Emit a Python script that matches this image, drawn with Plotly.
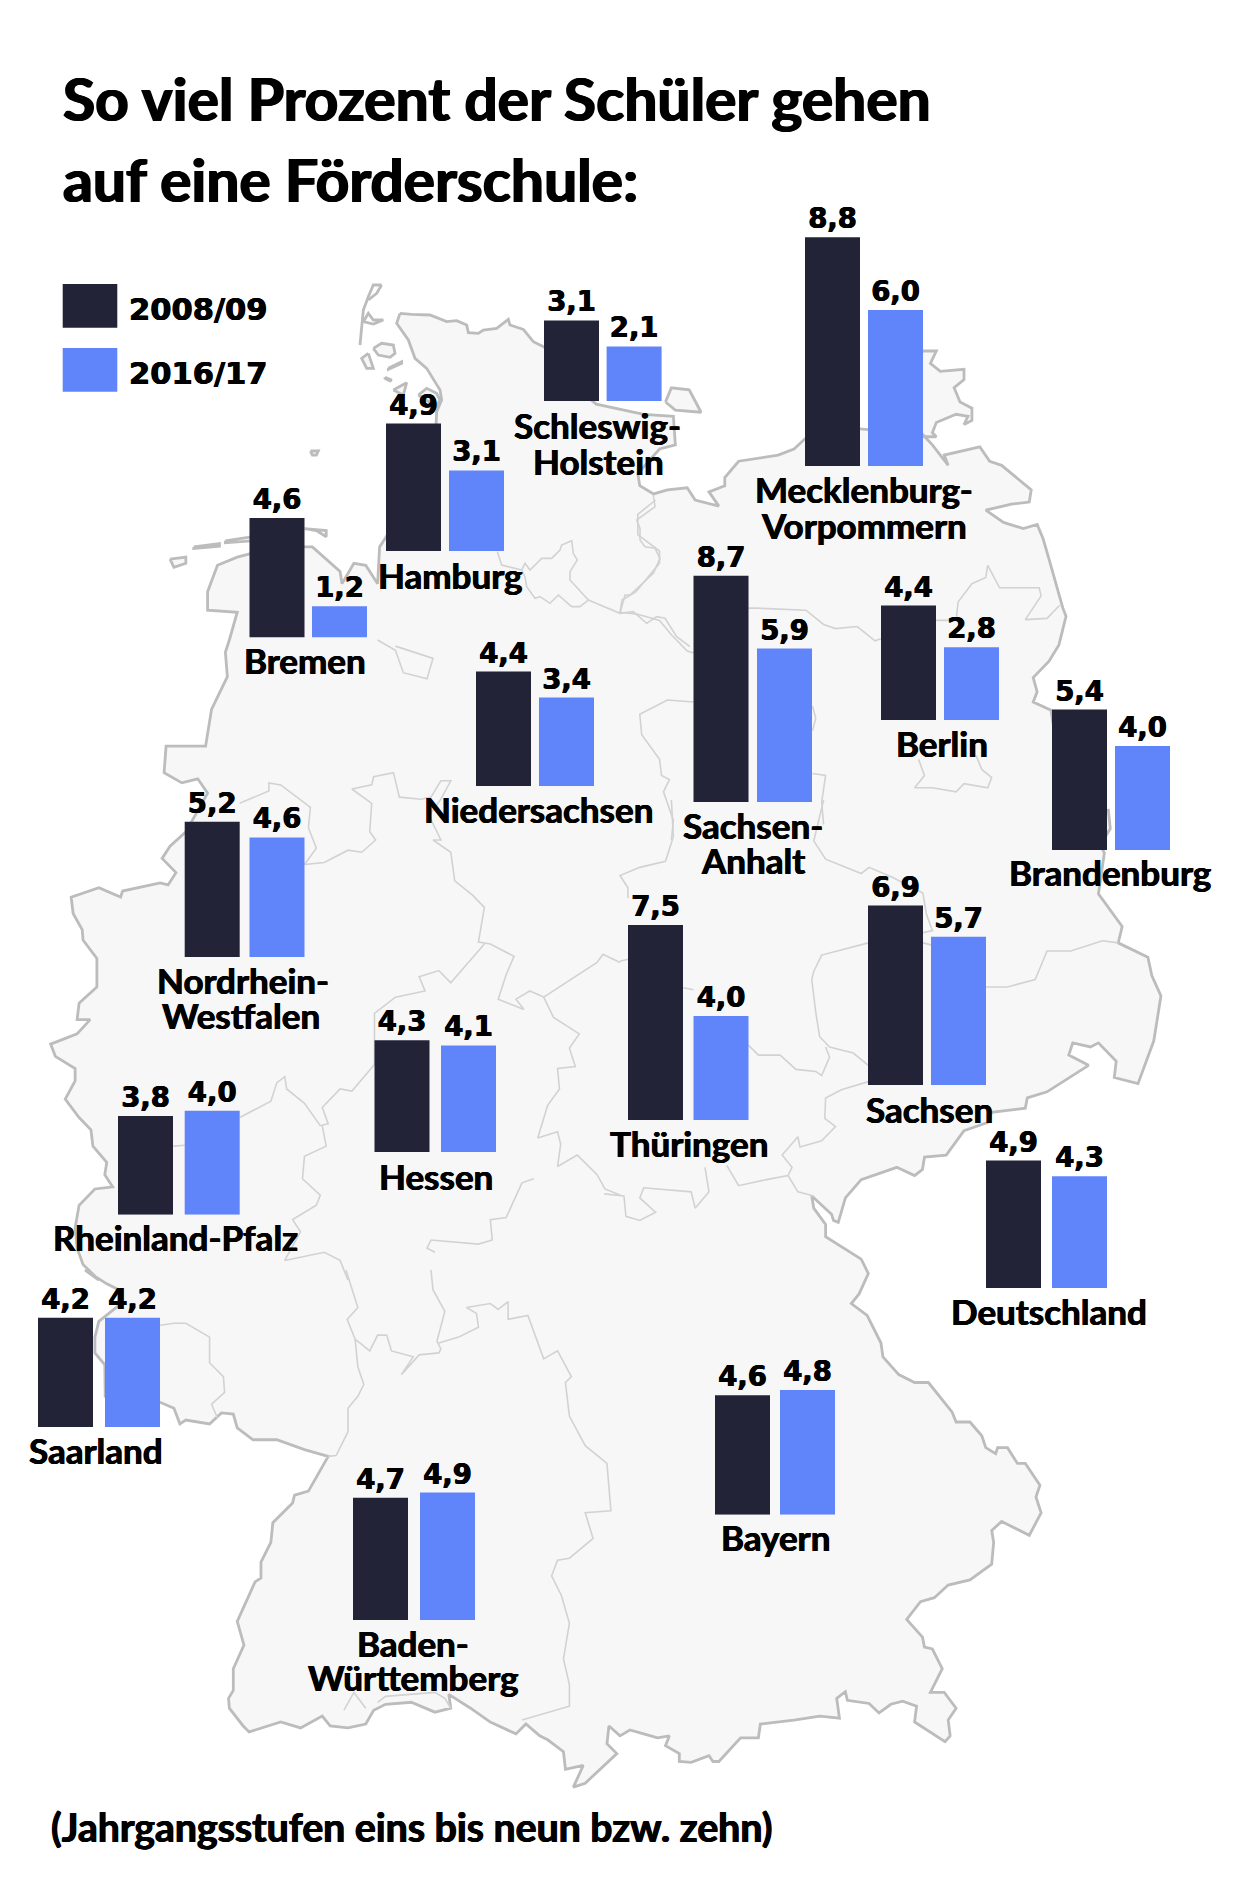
import plotly.graph_objects as go

W, H = 1240, 1889

# werte aus dem bild
STATES = ['Schleswig-Holstein', 'Hamburg', 'Bremen', 'Mecklenburg-Vorpommern', 'Berlin',
          'Niedersachsen', 'Sachsen-Anhalt', 'Brandenburg', 'Nordrhein-Westfalen', 'Hessen',
          'Rheinland-Pfalz', 'Thüringen', 'Sachsen', 'Deutschland', 'Saarland',
          'Baden-Württemberg', 'Bayern']
YEARS = ['2008/09', '2016/17']
VALUES_0809 = [3.1, 4.9, 4.6, 8.8, 4.4, 4.4, 8.7, 5.4, 5.2, 4.3, 3.8, 7.5, 6.9, 4.9, 4.2, 4.7, 4.6]
VALUES_1617 = [2.1, 3.1, 1.2, 6.0, 2.8, 3.4, 5.9, 4.0, 4.6, 4.1, 4.0, 4.0, 5.7, 4.3, 4.2, 4.9, 4.8]

# wo die kleinen diagramme auf der karte sitzen (pixel)
DARK_LEFT = [544, 386, 249.5, 805, 881, 476, 693.5, 1052, 184.7, 374.5, 118, 628, 868, 986, 38, 353, 715]
BLUE_LEFT = [606.6, 449, 312, 868, 944, 539, 757, 1115, 249.5, 441, 184.7, 693.5, 931, 1052, 105, 420, 780]
BAR_BOTTOM = [401, 551, 637.5, 466, 720, 786, 802, 850, 957, 1152, 1214.7, 1120, 1085, 1288, 1427, 1620, 1514.8]
BAR_WIDTH = 55
PX_PER_UNIT = 26.0
AXIS_MAX = 10

# (zeile, mitte x, grundlinie y)
LABELS = [('Schleswig-', 597, 438), ('Holstein', 598, 473.5), ('Hamburg', 450, 588), ('Bremen', 305, 672.7),
          ('Mecklenburg-', 863.5, 502), ('Vorpommern', 864, 538), ('Berlin', 941.6, 756),
          ('Niedersachsen', 538.5, 821.6), ('Sachsen-', 752.8, 838), ('Anhalt', 753, 872.6),
          ('Brandenburg', 1110, 885), ('Nordrhein-', 242.7, 993), ('Westfalen', 241, 1027.8),
          ('Hessen', 435.6, 1189), ('Rheinland-Pfalz', 175.5, 1250), ('Thüringen', 689, 1156),
          ('Sachsen', 929, 1121.6), ('Deutschland', 1049, 1323.7), ('Saarland', 96, 1463.4),
          ('Baden-', 413, 1655.7), ('Württemberg', 413, 1690.4), ('Bayern', 775.6, 1550.3)]

TITLE_LINES = ['So viel Prozent der Schüler gehen', 'auf eine Förderschule:']
NOTE = '(Jahrgangsstufen eins bis neun bzw. zehn)'

DARK = '#232338'
BLUE = '#6085fb'
SANS = 'Lato'
WIDE = 'DejaVu Sans'
LOW = 2.533


def panel(x0, y0, pts, sx=2.529, sy=2.45):
    return [(x0 + x / sx, y0 + y / sy) for x, y in pts]


def crop(x0, y0, pts):
    return panel(x0, y0, pts, sx=3, sy=3)


# umriss im uhrzeigersinn, stück für stück
OUTLINE = (
    crop(340, 280, [(180, 100), (215, 103), (270, 105), (320, 125), (350, 122), (380, 135), (385, 158), (415, 160),
                    (430, 150), (470, 145), (505, 118), (510, 135), (550, 148), (580, 185), (600, 195)])
    + panel(0, 0, [(1376, 850), (1420, 900), (1470, 960)])
    + panel(620, 200, [(-60, 500), (60, 525), (135, 530), (140, 600), (100, 610), (45, 670), (50, 700), (85, 720),
                       (120, 710), (170, 705), (190, 735), (250, 750), (225, 715), (265, 700), (265, 680),
                       (300, 640), (400, 625), (440, 610), (468, 585), (600, 560), (766, 575), (790, 600),
                       (810, 625), (830, 650), (820, 625), (890, 610), (910, 605), (935, 640), (965, 650),
                       (1040, 710), (1035, 740), (990, 745), (925, 760), (970, 790), (1020, 805), (1055, 795),
                       (1070, 830), (1085, 880), (1100, 930), (1120, 1000), (1128, 1020), (1110, 1090),
                       (1085, 1130), (1045, 1170), (1055, 1205), (1045, 1230), (1090, 1250)])
    + panel(620, 800, [(1130, 30), (1235, 25), (1240, 70), (1215, 110), (1225, 130), (1210, 230), (1240, 270),
                       (1270, 310), (1260, 350), (1335, 385), (1345, 430), (1368, 480), (1350, 590), (1310, 695),
                       (1250, 680), (1255, 640), (1210, 595), (1190, 605), (1145, 595), (1135, 625), (1185, 650),
                       (1080, 715), (1030, 730), (1025, 755), (940, 765), (930, 790), (870, 810), (825, 870),
                       (770, 875), (765, 905), (745, 920), (700, 900), (610, 930), (570, 975), (552, 1035),
                       (540, 1030), (535, 1015), (485, 970), (490, 1000), (520, 1040), (520, 1070), (610, 1125),
                       (628, 1160)])
    + panel(620, 1270, [(605, 60), (585, 85), (625, 115), (660, 185), (665, 220), (705, 265), (745, 285), (780, 285),
                        (840, 360), (850, 385), (885, 385), (915, 420), (925, 450), (950, 465), (955, 450),
                        (980, 450), (1005, 490), (1025, 490), (1062, 545), (1052, 575), (1065, 615), (1035, 672),
                        (965, 637), (940, 660), (945, 690), (940, 745), (885, 785), (830, 798), (795, 830),
                        (760, 840), (725, 885), (765, 930), (770, 955), (790, 960), (815, 1010), (785, 1070),
                        (820, 1070), (850, 1110), (830, 1140), (835, 1180), (822, 1195), (745, 1145), (750, 1105),
                        (715, 1092), (685, 1100), (655, 1122), (630, 1098), (575, 1090), (570, 1068), (548, 1085),
                        (555, 1135), (505, 1130), (440, 1140), (355, 1150), (350, 1185), (305, 1185), (250, 1245),
                        (235, 1245), (225, 1230), (180, 1247), (150, 1245), (150, 1225), (115, 1205), (125, 1180),
                        (95, 1185), (60, 1175), (25, 1165), (0, 1180)], sy=LOW)
    + panel(0, 1270, [(1540, 1155), (1535, 1200), (1560, 1225), (1480, 1300), (1450, 1310), (1475, 1255), (1430, 1265),
                      (1425, 1220), (1385, 1190), (1365, 1180), (1330, 1150), (1305, 1175), (1240, 1145),
                      (1190, 1110), (1135, 1075), (1140, 1110), (1100, 1120), (1040, 1095), (975, 1100), (945, 1115),
                      (925, 1150), (880, 1160), (835, 1155), (815, 1130), (760, 1160), (710, 1145), (630, 1170),
                      (615, 1155), (580, 1110), (578, 1085), (590, 1065), (590, 1010), (617, 950), (600, 890),
                      (625, 835), (645, 790), (660, 780), (660, 740), (685, 690), (690, 640), (740, 590), (745, 570),
                      (780, 560), (830, 472), (770, 455), (700, 430), (640, 430), (600, 400), (590, 365), (560, 362),
                      (530, 390), (470, 380), (455, 390), (440, 350), (405, 335), (266, 320), (265, 240), (240, 210),
                      (240, 170), (250, 130), (300, 90), (300, 50), (270, 35), (215, 0)], sy=LOW)
    + panel(0, 640, [(250, 1568), (210, 1530), (195, 1490), (190, 1440), (200, 1385), (240, 1345), (285, 1340),
                     (265, 1310), (270, 1280), (235, 1240), (230, 1200), (200, 1170), (165, 1125), (190, 1080),
                     (190, 1050), (140, 1020), (128, 990), (195, 965), (228, 930), (195, 930), (200, 890), (245, 850),
                     (245, 780), (210, 735), (208, 710), (185, 670), (180, 630), (250, 607), (305, 630), (310, 615),
                     (405, 595), (425, 600), (445, 570), (410, 535), (430, 505), (470, 470), (525, 375), (500, 340),
                     (460, 350), (415, 325), (420, 260), (520, 260), (535, 170), (575, 90), (570, 30), (580, 0)])
    + panel(0, 0, [(600, 1500), (525, 1495), (525, 1450), (550, 1385), (600, 1365), (700, 1340), (790, 1340), (860, 1400),
                   (865, 1430), (895, 1380), (925, 1385), (955, 1430), (960, 1340), (1000, 1280), (1100, 1100)])
    + crop(340, 280, [(290, 395), (305, 360), (300, 330), (260, 265), (225, 235), (205, 180), (170, 130), (180, 100)])
)

# inseln
ISLANDS = [
    panel(0, 0, [(430, 1370), (470, 1365), (470, 1380), (440, 1390), (430, 1370)]),
    panel(0, 0, [(490, 1340), (555, 1332), (555, 1338), (490, 1344), (490, 1340)]),
    panel(0, 0, [(570, 1325), (640, 1315), (640, 1325), (570, 1330), (570, 1325)]),
    panel(0, 0, [(770, 1295), (825, 1300), (825, 1315), (800, 1300), (770, 1295)]),
    panel(0, 0, [(785, 1105), (805, 1105), (800, 1115), (790, 1115), (785, 1105)]),
    crop(340, 280, [(100, 205), (125, 190), (160, 195), (165, 220), (150, 232), (115, 225), (100, 205)]),
    crop(340, 280, [(85, 220), (65, 235), (80, 265), (100, 265), (85, 220)]),
    crop(340, 280, [(145, 265), (185, 245), (185, 250), (145, 268), (145, 265)]),
    crop(340, 280, [(135, 292), (155, 300), (150, 303), (135, 295), (135, 292)]),
    crop(340, 280, [(160, 330), (200, 308), (190, 345), (160, 330)]),
    crop(340, 280, [(235, 345), (260, 325), (290, 340), (300, 360), (290, 380), (235, 345)]),
    panel(620, 200, [(115, 495), (130, 460), (175, 465), (205, 520), (140, 515), (115, 495)]),
    panel(620, 200, [(766, 370), (800, 370), (785, 400), (810, 420), (870, 415), (870, 440), (845, 460), (860, 495),
                     (890, 510), (890, 540), (870, 550), (880, 530), (850, 525), (800, 545), (790, 570), (800, 580),
                     (770, 580), (700, 520), (700, 400), (766, 370)]),
]

# sylt ist nur eine linie
SYLT = [crop(340, 280, [(125, 15), (100, 15), (85, 50), (70, 90), (60, 195)]),
        crop(340, 280, [(70, 125), (85, 100), (100, 120), (130, 120), (100, 132), (70, 125)]),
        crop(340, 280, [(125, 15), (110, 40), (85, 60)])]

# ländergrenzen
BORDERS = [
    panel(0, 640, [(606, 400), (680, 370), (680, 350), (710, 355), (785, 410), (780, 460), (800, 510), (770, 550),
                   (820, 545), (880, 515), (915, 520), (950, 490), (935, 470), (940, 400), (890, 365), (940, 355),
                   (945, 335), (995, 325), (1010, 385), (1065, 390), (1090, 385), (1115, 345), (1140, 345),
                   (1115, 390), (1085, 430), (1115, 490), (1095, 490), (1140, 520), (1150, 590), (1195, 625),
                   (1225, 655), (1210, 740), (1240, 745), (1300, 775), (1280, 820), (1260, 880), (1325, 905),
                   (1305, 880), (1340, 860), (1375, 875), (1400, 925), (1465, 965), (1440, 1000), (1455, 1045),
                   (1410, 1050), (1415, 1100), (1385, 1140), (1360, 1220), (1410, 1205), (1418, 1235), (1410, 1290),
                   (1460, 1262), (1510, 1310), (1530, 1345), (1568, 1360)]),
    panel(0, 640, [(1225, 745), (1140, 840), (1110, 810), (1060, 825), (1075, 860), (1000, 875), (947, 915),
                   (947, 1040), (890, 1105), (860, 1100), (815, 1145), (830, 1185), (810, 1190), (770, 1135),
                   (725, 1100), (720, 1070), (700, 1085), (685, 1130), (606, 1170)]),
    panel(0, 640, [(815, 1190), (825, 1240), (770, 1265), (765, 1320), (810, 1360), (800, 1385), (740, 1420),
                   (760, 1450), (720, 1520), (820, 1500), (860, 1520), (880, 1568)]),
    panel(0, 640, [(438, 1240), (467, 1238)]),
    panel(0, 640, [(1375, 875), (1510, 790), (1525, 770), (1568, 790)]),
    panel(0, 640, [(1100, 1500), (1080, 1490), (1090, 1470), (1210, 1480), (1245, 1470), (1240, 1420), (1280, 1415),
                   (1320, 1330), (1350, 1320)]),
    panel(0, 1270, [(875, 0), (905, 95), (878, 125), (898, 175), (935, 205), (955, 165), (978, 165), (990, 205),
                    (1045, 220), (1015, 265), (1060, 215), (1110, 210), (1115, 200), (1105, 180), (1125, 105),
                    (1095, 50), (1090, 0)], sy=LOW),
    panel(0, 1270, [(1110, 185), (1160, 170), (1210, 145), (1205, 110), (1180, 95), (1240, 85), (1260, 100),
                    (1285, 80), (1285, 125), (1335, 115), (1375, 225), (1410, 205), (1445, 270), (1430, 285),
                    (1440, 370), (1480, 445), (1535, 490), (1545, 610), (1480, 615), (1500, 680), (1440, 730),
                    (1410, 735), (1395, 775), (1420, 825), (1440, 895), (1425, 985), (1440, 1050), (1440, 1105),
                    (1320, 1140)], sy=LOW),
    panel(0, 1270, [(898, 175), (905, 245), (920, 290), (905, 320), (880, 350), (880, 410), (850, 470), (830, 472)], sy=LOW),
    panel(0, 1270, [(405, 140), (440, 135), (470, 135), (530, 170), (530, 235), (565, 270), (568, 310), (535, 340),
                    (550, 375)], sy=LOW),
    panel(0, 1270, [(870, 1115), (895, 1070), (925, 1110)], sy=LOW),
    panel(0, 1270, [(955, 1095), (975, 1080), (1100, 1070), (1125, 1085), (1140, 1110)], sy=LOW),
    panel(620, 200, [(90, 735), (45, 770), (45, 820), (100, 860), (100, 890), (40, 960), (5, 980), (0, 1010)]),
    panel(620, 200, [(0, 1010), (45, 1015), (100, 1030), (130, 1065), (170, 1105), (186, 1110)]),
    panel(620, 200, [(324, 1000), (347, 1000), (470, 1005), (515, 1040), (545, 1050), (600, 1045), (645, 1080),
                     (660, 1075)]),
    panel(620, 200, [(799, 1030), (850, 1030), (855, 985), (890, 940), (925, 925), (930, 895), (960, 950), (1060, 950),
                     (1065, 970), (1025, 1028), (1080, 1025), (1112, 993)]),
    panel(620, 200, [(755, 1370), (770, 1410), (745, 1440), (790, 1440), (850, 1450), (870, 1430), (930, 1440),
                     (940, 1415), (915, 1395), (900, 1360)]),
    panel(620, 200, [(186, 1230), (120, 1225), (50, 1260), (55, 1310), (100, 1370), (105, 1410), (125, 1420),
                     (110, 1450), (135, 1520), (130, 1568)]),
    panel(620, 200, [(487, 1240), (495, 1270), (487, 1300)]),
    panel(620, 200, [(487, 1405), (520, 1410), (510, 1475), (515, 1530)]),
    panel(620, 800, [(515, 0), (490, 100), (520, 145), (610, 180), (630, 165), (690, 190), (766, 228), (775, 280),
                     (790, 320), (767, 325)]),
    panel(620, 800, [(130, 0), (135, 90), (115, 150), (50, 165), (0, 185), (20, 215), (20, 240)]),
    panel(620, 800, [(0, 395), (20, 390)]),
    panel(620, 800, [(160, 460), (186, 465)]),
    panel(620, 800, [(324, 600), (350, 625), (405, 625), (445, 660), (495, 665), (510, 675), (530, 630), (520, 605)]),
    panel(620, 800, [(628, 350), (510, 380), (490, 420), (485, 440), (495, 520), (505, 580), (530, 605), (590, 620),
                     (628, 650)]),
    panel(620, 800, [(766, 350), (787, 355)]),
    panel(620, 800, [(926, 458), (980, 458), (1050, 440), (1080, 370), (1140, 370), (1220, 345), (1260, 350)]),
    panel(620, 800, [(628, 690), (560, 710), (520, 730), (518, 780), (545, 800), (510, 835), (455, 850), (450, 825),
                     (410, 870), (435, 900), (425, 920), (370, 930), (300, 945), (270, 895)]),
    panel(620, 800, [(215, 900), (225, 960), (190, 1000), (180, 960), (60, 950), (50, 975), (90, 1010), (50, 1030),
                     (15, 1020), (10, 970), (-40, 965)]),
    panel(620, 800, [(425, 920), (450, 960), (490, 970)]),
    # hamburg und umgebung
    crop(490, 490, [(22, 185), (35, 225), (95, 240), (105, 220), (120, 240), (155, 205), (185, 205), (210, 180),
                    (215, 165), (245, 152), (250, 190), (262, 210), (240, 245), (240, 270), (295, 330), (270, 350),
                    (245, 350), (205, 315), (180, 340), (150, 320), (135, 325), (110, 290), (105, 260), (95, 240)]),
    crop(490, 490, [(295, 330), (390, 370), (430, 365), (470, 400), (500, 380), (525, 385), (560, 440), (600, 470)]),
    crop(490, 490, [(390, 370), (405, 315), (420, 315), (490, 250), (510, 205), (495, 175), (465, 170), (450, 150),
                    (450, 115), (440, 90), (495, 50), (490, 15)]),
    panel(0, 640, [(955, 0), (1000, 25), (1020, 80), (1080, 95), (1095, 45), (1000, 15)]),
]


def with_gaps(parts):
    xs, ys = [], []
    for part in parts:
        xs += [p[0] for p in part] + [None]
        ys += [p[1] for p in part] + [None]
    return xs, ys


fig = go.Figure()

# karte
map_x, map_y = with_gaps([OUTLINE] + ISLANDS)
fig.add_trace(go.Scatter(x=map_x, y=map_y, mode='lines', fill='toself', fillcolor='#f7f7f7',
                         line=dict(color='#bcbcbc', width=2.8), hoverinfo='skip'))
sylt_x, sylt_y = with_gaps(SYLT)
fig.add_trace(go.Scatter(x=sylt_x, y=sylt_y, mode='lines', line=dict(color='#bcbcbc', width=2.8), hoverinfo='skip'))
border_x, border_y = with_gaps(BORDERS)
fig.add_trace(go.Scatter(x=border_x, y=border_y, mode='lines', line=dict(color='#d2d2d2', width=1.6), hoverinfo='skip'))

axes = {
    'xaxis': dict(domain=[0, 1], range=[0, W], visible=False, fixedrange=True),
    'yaxis': dict(domain=[0, 1], range=[H, 0], visible=False, fixedrange=True),
}

# pro land ein eigenes achsenpaar
for i, state in enumerate(STATES):
    n = i + 2
    vals = [VALUES_0809[i], VALUES_1617[i]]
    pitch = BLUE_LEFT[i] - DARK_LEFT[i]
    mid_dark = DARK_LEFT[i] + BAR_WIDTH / 2
    mid_blue = BLUE_LEFT[i] + BAR_WIDTH / 2
    top = BAR_BOTTOM[i] - AXIS_MAX * PX_PER_UNIT
    fig.add_trace(go.Bar(x=[0, 1], y=vals, width=BAR_WIDTH / pitch, name=state,
                         xaxis=f'x{n}', yaxis=f'y{n}',
                         marker=dict(color=[DARK, BLUE], line_width=0),
                         customdata=YEARS,
                         text=[f'{v:.1f}'.replace('.', ',') for v in vals],
                         textposition='outside', cliponaxis=False, constraintext='none',
                         textfont=dict(family=WIDE, size=27.5, color='#000000', weight='bold',
                                       shadow='0.5px 0 0 #000, -0.5px 0 0 #000'),
                         hoverinfo='skip'))
    axes[f'xaxis{n}'] = dict(domain=[(mid_dark - pitch / 2) / W, (mid_blue + pitch / 2) / W],
                             range=[-0.5, 1.5], visible=False, anchor=f'y{n}', fixedrange=True)
    axes[f'yaxis{n}'] = dict(domain=[1 - BAR_BOTTOM[i] / H, 1 - top / H],
                             range=[0, AXIS_MAX], visible=False, anchor=f'x{n}', fixedrange=True)


def put_text(s, x, base, size, family=SANS, anchor='center', heavy=0.5):
    # y ist die grundlinie, plotly setzt aber die mitte
    shadow = f'{heavy}px 0 0 #000, -{heavy}px 0 0 #000'
    return dict(text=s, x=x, y=base - 0.37 * size, xref='x', yref='y', xanchor=anchor, yanchor='middle',
                showarrow=False, font=dict(family=family, size=size, color='#000000', weight='bold', shadow=shadow))


notes = []
notes.append(put_text(TITLE_LINES[0], 61, 120, 58.7, anchor='left', heavy=0.9))
notes.append(put_text(TITLE_LINES[1], 61, 201.7, 58.7, anchor='left', heavy=0.9))
notes.append(put_text(NOTE, 49, 1841, 39.2, anchor='left', heavy=0.6))
notes.append(put_text(YEARS[0], 127, 320.5, 30.5, family=WIDE, anchor='left'))
notes.append(put_text(YEARS[1], 127, 384.5, 30.5, family=WIDE, anchor='left'))
for line, x, base in LABELS:
    notes.append(put_text(line, x, base, 35))

swatches = [dict(type='rect', xref='x', yref='y', x0=62.7, x1=117.3, y0=284, y1=327.7, fillcolor=DARK, line_width=0),
            dict(type='rect', xref='x', yref='y', x0=62.7, x1=117.3, y0=348, y1=391.7, fillcolor=BLUE, line_width=0)]

fig.update_layout(width=W, height=H, margin=dict(l=0, r=0, t=0, b=0), autosize=False,
                  paper_bgcolor='white', plot_bgcolor='rgba(0,0,0,0)', showlegend=False,
                  hovermode=False, barmode='overlay', annotations=notes, shapes=swatches, **axes)

fig.write_html("out.html", config={'displayModeBar': False}, post_script="document.body.style.margin='0';")
